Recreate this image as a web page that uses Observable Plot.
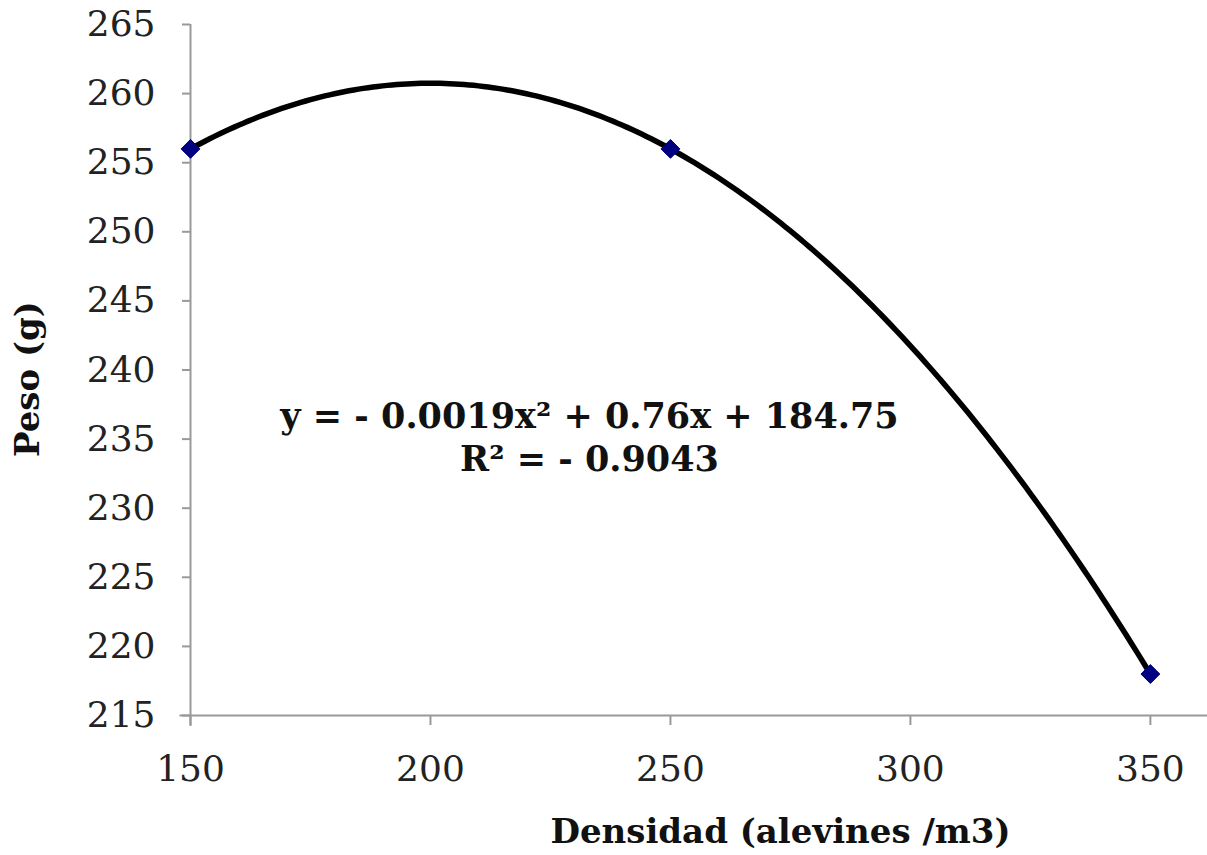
<!DOCTYPE html>
<html>
<head>
<meta charset="utf-8">
<script src="https://cdn.jsdelivr.net/npm/d3@7"></script>
<script src="https://cdn.jsdelivr.net/npm/@observablehq/plot@0.6"></script>
<style>
  html, body { margin: 0; padding: 0; background: #fff; }
</style>
</head>
<body>
<div id="chart"></div>
<script>
// Data
const densidad = [150, 250, 350];
const peso = [256, 256, 218];
const xTicks = [150, 200, 250, 300, 350];
const yTicks = [215, 220, 225, 230, 235, 240, 245, 250, 255, 260, 265];
const equationLines = ["y = - 0.0019x² + 0.76x + 184.75", "R² = - 0.9043"];
const xLabel = "Densidad (alevines /m3)";
const yLabel = "Peso (g)";

const points = densidad.map((d, i) => ({x: d, y: peso[i]}));

// Polynomial (order 2) trendline fitted to the points by least squares
function polyFit2(xs, ys) {
  const n = xs.length;
  let S = [0, 0, 0, 0, 0], T = [0, 0, 0];
  for (let i = 0; i < n; i++) {
    const x = xs[i], y = ys[i];
    for (let k = 0; k < 5; k++) S[k] += Math.pow(x, k);
    for (let k = 0; k < 3; k++) T[k] += y * Math.pow(x, k);
  }
  const A = [[S[0], S[1], S[2], T[0]], [S[1], S[2], S[3], T[1]], [S[2], S[3], S[4], T[2]]];
  for (let i = 0; i < 3; i++) {
    let p = i;
    for (let r = i + 1; r < 3; r++) if (Math.abs(A[r][i]) > Math.abs(A[p][i])) p = r;
    [A[i], A[p]] = [A[p], A[i]];
    for (let r = 0; r < 3; r++) {
      if (r === i) continue;
      const f = A[r][i] / A[i][i];
      for (let c = i; c < 4; c++) A[r][c] -= f * A[i][c];
    }
  }
  return [A[0][3] / A[0][0], A[1][3] / A[1][1], A[2][3] / A[2][2]];
}
const [c0, c1, c2] = polyFit2(densidad, peso);
const xMin = d3.min(densidad), xMaxData = d3.max(densidad);
const trend = d3.range(xMin, xMaxData + 0.01, 1).map(x => ({x, y: c0 + c1 * x + c2 * x * x}));

const xDomain = [150, 361.9];
const yDomain = [215, 265];
const axisColor = "#999";
const font = "'DejaVu Serif', 'Liberation Serif', serif";

const chart = Plot.plot({
  width: 1207,
  height: 855,
  marginLeft: 190,
  marginRight: 0,
  marginTop: 24,
  marginBottom: 140,
  style: {fontFamily: font, background: "#fff", color: "#222"},
  x: {domain: xDomain},
  y: {domain: yDomain},
  marks: [
    Plot.ruleY([yDomain[0]], {x1: xDomain[0] - 2.2, x2: xDomain[1], stroke: axisColor, strokeWidth: 2}),
    Plot.ruleX([xDomain[0]], {y1: yDomain[0] - 0.8, y2: yDomain[1], stroke: axisColor, strokeWidth: 2}),
    Plot.axisY({
      ticks: yTicks, tickSize: 8, tickPadding: 27, stroke: axisColor, strokeWidth: 2,
      fontSize: 36, fill: "#222", label: null, tickFormat: d => String(d)
    }),
    Plot.axisX({
      ticks: xTicks, tickSize: 10, tickPadding: 30, stroke: axisColor, strokeWidth: 2,
      fontSize: 36, fill: "#222", label: null, tickFormat: d => String(d)
    }),
    Plot.line(trend, {x: "x", y: "y", stroke: "#000", strokeWidth: 5.5, curve: "linear"}),
    Plot.dot(points, {x: "x", y: "y", symbol: "diamond2", r: 8.5, fill: "#000080", stroke: "#000080", strokeWidth: 1}),
    Plot.text([equationLines.join("\n")], {
      frameAnchor: "top-left", dx: 399, dy: 373, textAnchor: "middle", lineAnchor: "top",
      fontSize: 35, fontWeight: "bold", lineHeight: 1.23, fill: "#111"
    }),
    Plot.text([xLabel], {
      frameAnchor: "bottom-left", dx: 590, dy: 117, textAnchor: "middle", lineAnchor: "middle",
      fontSize: 34, fontWeight: "bold", fill: "#111"
    }),
    Plot.text([yLabel], {
      frameAnchor: "left", dx: -162, dy: 9, rotate: -90, textAnchor: "middle", lineAnchor: "middle",
      fontSize: 34, fontWeight: "bold", fill: "#111"
    })
  ]
});
document.getElementById("chart").appendChild(chart);
</script>
</body>
</html>
